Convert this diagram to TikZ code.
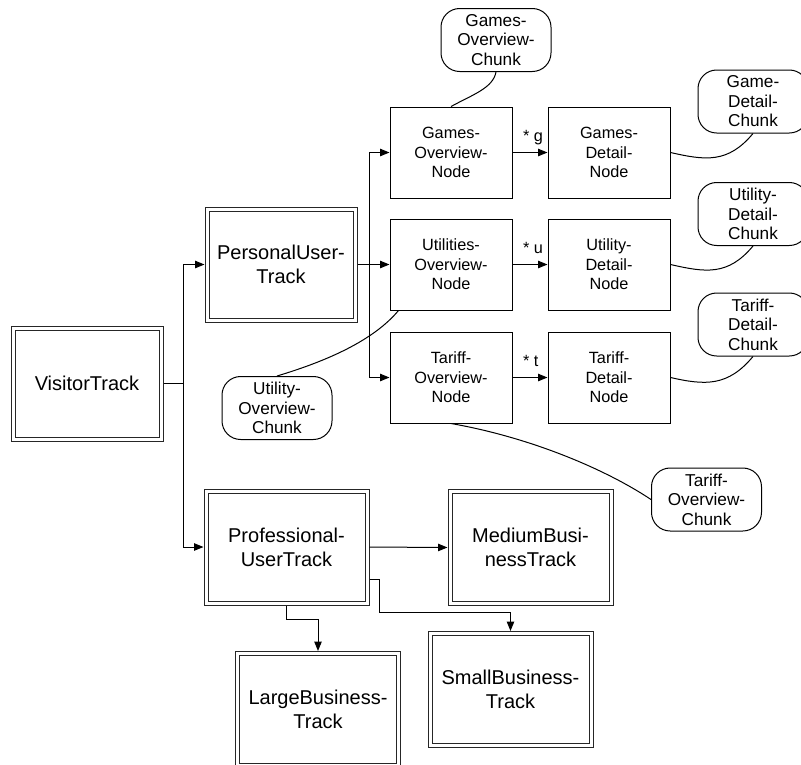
\documentclass[tikz,border=0pt]{standalone}
\usepackage{fontspec}
\setmainfont{Liberation Sans}
\usetikzlibrary{arrows.meta}
\begin{document}
\begin{tikzpicture}[x=0.75pt,y=-0.75pt,
  line width=0.75pt,
  arr/.style={-{Triangle[length=7pt,width=5.5pt]}},
  track/.style={draw=black!85, minimum width=114pt, minimum height=86.25pt, inner sep=0pt,
    align=center, font=\fontsize{15}{17.8}\selectfont},
  widetrack/.style={track, minimum width=123.75pt, minimum height=87pt},
  innerframe/.style={draw=black!85},
  pagebox/.style={draw, minimum width=91.5pt, minimum height=68.25pt, inner sep=0pt,
    align=center, font=\fontsize{12.2}{14.6}\selectfont},
  chunk/.style={draw, rounded corners=14pt, minimum width=82.5pt, minimum height=47.25pt,
    inner sep=0pt, align=center, font=\fontsize{12.9}{14.6}\selectfont},
  lbl/.style={inner sep=0pt, anchor=base west, font=\fontsize{12.2}{14.6}\selectfont}]
\useasboundingbox (0,0) rectangle (801,765);

% tracks (outer frame is the node border)
\node[track] (visitor) at (87,383.5) {VisitorTrack};
\node[track] (personal) at (281,264.5) {PersonalUser-\\Track};
\node[widetrack] (prof) at (286.5,547) {Professional-\\UserTrack};
\node[widetrack] (medium) at (530.5,547.5) {MediumBusi-\\nessTrack};
\node[widetrack] (large) at (318,709.5) {LargeBusiness-\\Track};
\node[widetrack] (small) at (510.5,689.5) {SmallBusiness-\\Track};

% inner frame of every track
\foreach \t in {visitor,personal,prof,medium,large,small}
  \draw[innerframe] ([shift={(4.5,4.5)}]\t.north west) rectangle ([shift={(-4.5,-4.5)}]\t.south east);

% overview and detail nodes
\node[pagebox] (gonode) at (451,152.5) {Games-\\Overview-\\Node};
\node[pagebox] (uonode) at (451,264.5) {Utilities-\\Overview-\\Node};
\node[pagebox] (tonode) at (451,377.5) {Tariff-\\Overview-\\Node};
\node[pagebox] (gdnode) at (609,152.5) {Games-\\Detail-\\Node};
\node[pagebox] (udnode) at (609,264.5) {Utility-\\Detail-\\Node};
\node[pagebox] (tdnode) at (609,377.5) {Tariff-\\Detail-\\Node};

% content chunks
\node[chunk] (gochunk) at (496,40) {Games-\\Overview-\\Chunk};
\node[chunk] (gdchunk) at (753,101.5) {Game-\\Detail-\\Chunk};
\node[chunk] (udchunk) at (753,214) {Utility-\\Detail-\\Chunk};
\node[chunk] (tdchunk) at (753,324.5) {Tariff-\\Detail-\\Chunk};
\node[chunk] (uochunk) at (277,408) {Utility-\\Overview-\\Chunk};
\node[chunk] (tochunk) at (706.5,499.5) {Tariff-\\Overview-\\Chunk};

% track structure
\draw (visitor.east) -- ++(20,0) coordinate (vj);
\draw[arr] (vj) |- (personal.west);
\draw[arr] (vj) |- (prof.west);
\draw (personal.east) -- ++(12,0) coordinate (pj);
\draw[arr] (pj) |- (gonode.west);
\draw[arr] (pj) |- (uonode.west);
\draw[arr] (pj) |- (tonode.west);
\draw[arr] (prof.east) -- (medium.west);
\draw[arr] (prof.south) -- ++(0,14) -| (large.north);
\draw[arr] ([yshift=-24pt]prof.east) -- ++(10,0) -- ++(0,33) -| (small.north);

% overview to detail
\draw[arr] (gonode.east) -- (gdnode.west);
\draw[arr] (uonode.east) -- (udnode.west);
\draw[arr] (tonode.east) -- (tdnode.west);
\node[lbl] (lg) at ([xshift=7.5pt,yshift=8.25pt]gonode.east) {* g};
\node[lbl] (lu) at ([xshift=7.5pt,yshift=8.25pt]uonode.east) {* u};
\node[lbl] (lt) at ([xshift=7.5pt,yshift=8.25pt]tonode.east) {* t};

% chunk attachments
\draw (gochunk.south) .. controls +(-3,16) and +(22,-12) .. (gonode.north);
\draw (gdchunk.south) .. controls +(-25,30) and +(35,8) .. (gdnode.east);
\draw (udchunk.south) .. controls +(-25,30) and +(35,8) .. (udnode.east);
\draw (tdchunk.south) .. controls +(-25,30) and +(35,8) .. (tdnode.east);
\draw ([xshift=6.75pt]uonode.south west) .. controls +(-25,30) and +(50,-15) .. (uochunk.north);
\draw (tonode.south) .. controls +(80,14) and +(-45,-30) .. (tochunk.west);
\end{tikzpicture}
\end{document}
